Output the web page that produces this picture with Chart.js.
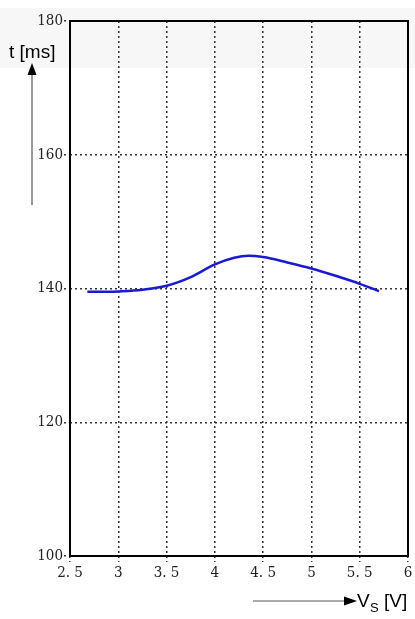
<!DOCTYPE html>
<html>
<head>
<meta charset="utf-8">
<script src="https://cdn.jsdelivr.net/npm/chart.js@4"></script>
<style>
  html, body { margin: 0; padding: 0; background: #fff; }
  #wrap { position: relative; width: 415px; height: 619px; }
</style>
</head>
<body>
<div id="wrap"><canvas id="chart" width="415" height="619"></canvas></div>
<script>
// supply voltage [V] and time [ms]
const voltage = [2.68, 2.9, 3.0, 3.25, 3.5, 3.75, 4.0, 4.2, 4.35, 4.5, 4.75, 5.0, 5.25, 5.5, 5.7];
const timeMs  = [139.5, 139.5, 139.55, 139.8, 140.4, 141.7, 143.6, 144.6, 144.9, 144.7, 143.9, 143.0, 141.9, 140.7, 139.6];

const xTicks = [2.5, 3, 3.5, 4, 4.5, 5, 5.5, 6];
const xTickLabels = ['2. 5', '3', '3. 5', '4', '4. 5', '5', '5. 5', '6'];
const yTicks = [100, 120, 140, 160, 180];

const tickFont = { family: 'DejaVu Serif Condensed, Liberation Serif, serif', size: 15 };

const frameAndLabels = {
    id: 'frameAndLabels',
    beforeDraw(chart) {
        const ctx = chart.ctx;
        ctx.save();
        ctx.fillStyle = '#f7f7f7';
        ctx.fillRect(0, 8, chart.width, 60);
        ctx.restore();
    },
    afterDraw(chart) {
        const ctx = chart.ctx;
        const a = chart.chartArea;
        ctx.save();
        // frame
        ctx.strokeStyle = '#000';
        ctx.lineWidth = 2;
        ctx.strokeRect(a.left, a.top, a.right - a.left, a.bottom - a.top);

        // y axis arrow + label
        ctx.strokeStyle = '#555';
        ctx.lineWidth = 1.2;
        ctx.beginPath();
        ctx.moveTo(32, 205);
        ctx.lineTo(32, 72);
        ctx.stroke();
        ctx.fillStyle = '#000';
        ctx.beginPath();
        ctx.moveTo(32, 63);
        ctx.lineTo(27.5, 75);
        ctx.lineTo(36.5, 75);
        ctx.closePath();
        ctx.fill();
        ctx.font = '19px "Liberation Sans", Arial, sans-serif';
        ctx.textBaseline = 'alphabetic';
        ctx.textAlign = 'left';
        ctx.fillText('t [ms]', 9, 58);

        // x axis arrow + label
        ctx.strokeStyle = '#555';
        ctx.beginPath();
        ctx.moveTo(253, 601);
        ctx.lineTo(346, 601);
        ctx.stroke();
        ctx.beginPath();
        ctx.moveTo(357, 601);
        ctx.lineTo(344, 596.5);
        ctx.lineTo(344, 605.5);
        ctx.closePath();
        ctx.fill();
        ctx.font = '19px "Liberation Sans", Arial, sans-serif';
        ctx.fillText('V', 357, 607);
        ctx.font = '13px "Liberation Sans", Arial, sans-serif';
        ctx.fillText('S', 370, 612);
        ctx.font = '19px "Liberation Sans", Arial, sans-serif';
        ctx.fillText('[V]', 384, 607);
        ctx.restore();
    }
};

const gridStyle = {
    color: '#333',
    lineWidth: 1.5,
    tickLength: 6,
    tickColor: '#333',
    tickWidth: 1.5,
    tickBorderDash: [2, 3]
};

new Chart(document.getElementById('chart'), {
    type: 'scatter',
    data: {
        datasets: [{
            data: voltage.map((v, i) => ({ x: v, y: timeMs[i] })),
            showLine: true,
            borderColor: '#1a1ad0',
            borderWidth: 2.5,
            pointRadius: 0,
            cubicInterpolationMode: 'monotone',
            fill: false
        }]
    },
    options: {
        responsive: false,
        animation: false,
        layout: { padding: { left: 0, right: 7, top: 21, bottom: 0 } },
        plugins: { legend: { display: false }, tooltip: { enabled: false } },
        scales: {
            x: {
                type: 'linear',
                min: 2.5,
                max: 6,
                afterBuildTicks: s => { s.ticks = xTicks.map(v => ({ value: v })); },
                afterFit: s => { s.height = 63; },
                border: { display: false, dash: [2, 3] },
                grid: gridStyle,
                ticks: {
                    color: '#222',
                    font: tickFont,
                    padding: 2,
                    maxRotation: 0,
                    callback: v => xTickLabels[xTicks.indexOf(v)]
                }
            },
            y: {
                min: 100,
                max: 180,
                afterBuildTicks: s => { s.ticks = yTicks.map(v => ({ value: v })); },
                afterFit: s => { s.width = 70; },
                border: { display: false, dash: [2, 3] },
                grid: gridStyle,
                ticks: {
                    color: '#222',
                    font: tickFont,
                    padding: 1
                }
            }
        }
    },
    plugins: [frameAndLabels]
});
</script>
</body>
</html>
